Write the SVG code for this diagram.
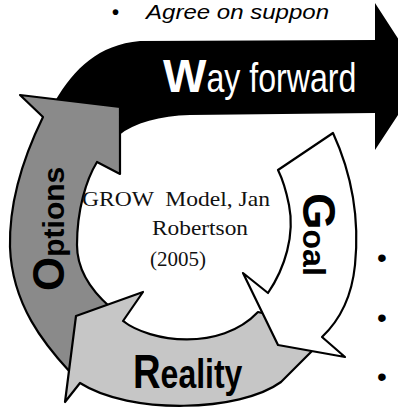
<svg xmlns="http://www.w3.org/2000/svg" width="398" height="412" viewBox="0 0 398 412">
<style>
.outline{stroke:#000;stroke-width:2.2;stroke-linejoin:round}
.sans{font-family:"Liberation Sans",Arial,sans-serif}
.serif{font-family:"Liberation Serif","Times New Roman",serif;font-size:21px;fill:#111}
.label{font-family:"Liberation Sans",Arial,sans-serif;font-weight:bold;fill:#000}
.bullet{font-family:"Liberation Sans",Arial,sans-serif;font-size:28px;fill:#000}
</style>
<rect width="398" height="412" fill="#fff"/>

<text id="top-text" class="sans" font-style="italic" font-size="20" y="19"><tspan x="112" font-weight="bold" font-style="normal">•</tspan><tspan x="146" textLength="183" lengthAdjust="spacingAndGlyphs">Agree on suppon</tspan></text>

<g id="node-way-forward">
  <path d="M55,101 C75,68 98,45 140,41 L375,40 L375,3 L423,77 L375,150 L375,113 L190,115 C160,116 135,122 118,136 L100,112 Z" fill="#000"/>
  <text class="sans" x="163" y="92" fill="#fff"><tspan font-size="46" font-weight="bold">W</tspan><tspan font-size="41" textLength="150" lengthAdjust="spacingAndGlyphs">ay forward</tspan></text>
</g>

<g id="node-options">
  <path class="outline" d="M120,107 L120,174 L97,162 C86,180 77,210 77,245 C77,265 85,285 110,307 L132,330 L70,372 C45,345 12,305 10,247 C9,205 22,160 43,117 L20,95 Z" fill="#8a8a8a"/>
  <text class="label" transform="translate(64,291) rotate(-90)"><tspan font-size="44">O</tspan><tspan font-size="30">ptions</tspan></text>
</g>

<g id="node-reality">
  <path class="outline" d="M76,316 L143,292 L123,321 C150,342 220,352 258,312 L300,322 L313,350 L281,382 C240,412 130,415 80,383 L65,402 Z" fill="#c6c6c6"/>
  <text class="label" transform="translate(133,388) scale(0.78,1)"><tspan font-size="49">R</tspan><tspan font-size="41">eality</tspan></text>
</g>

<g id="node-goal">
  <path class="outline" d="M278,170 L333,133 C350,170 360,215 355,265 C352,295 340,320 322,337 L345,357 L278,345 L243,273 L268,293 C285,268 295,235 289,205 C286,190 282,178 278,170 Z" fill="#fff"/>
  <text class="label" transform="translate(303,193) rotate(90)"><tspan font-size="47">G</tspan><tspan font-size="32">oal</tspan></text>
</g>

<g id="connectors"></g>

<g id="center-text" class="serif">
  <text x="82" y="206" textLength="188" lengthAdjust="spacingAndGlyphs" xml:space="preserve">GROW  Model, Jan</text>
  <text x="152" y="235" textLength="96" lengthAdjust="spacingAndGlyphs">Robertson</text>
  <text x="150" y="266">(2005)</text>
</g>

<g id="side-bullets">
  <text class="bullet" x="377" y="267">•</text>
  <text class="bullet" x="377" y="327">•</text>
  <text class="bullet" x="377" y="386">•</text>
</g>
</svg>
